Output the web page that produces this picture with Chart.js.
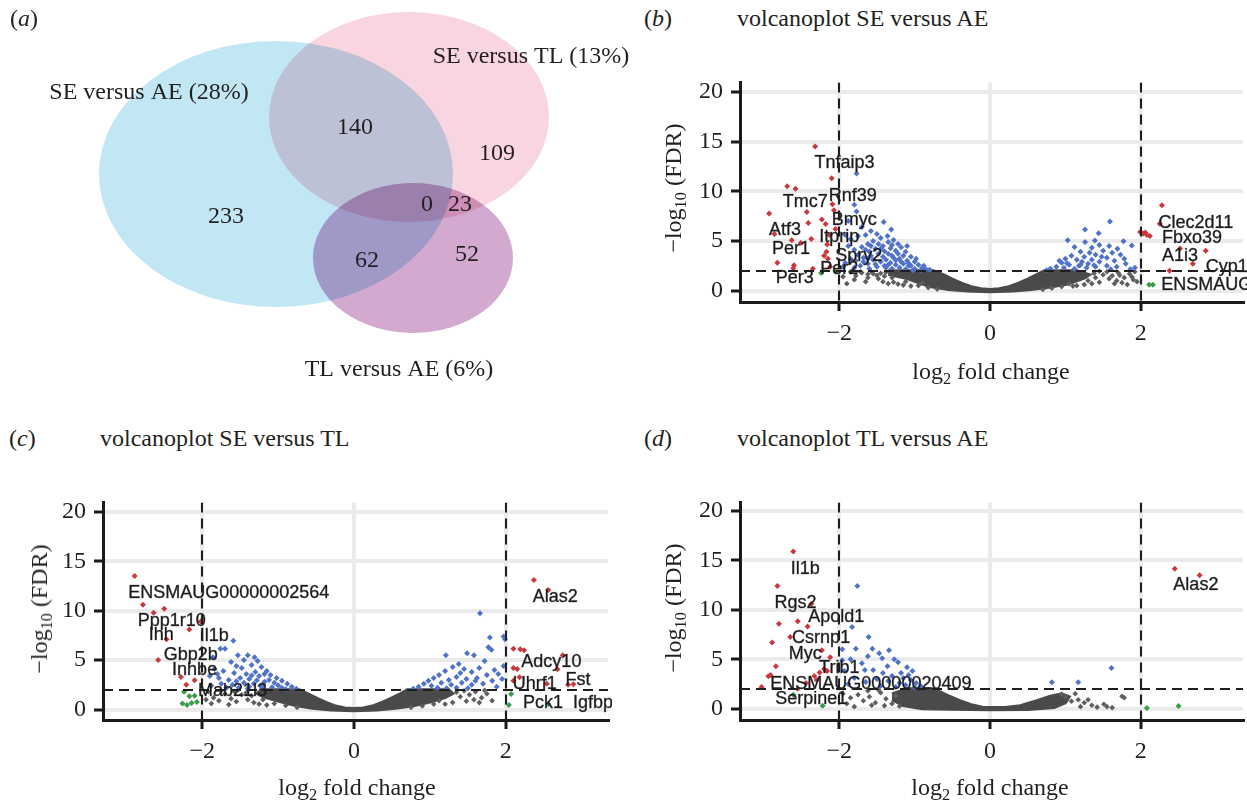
<!DOCTYPE html>
<html><head><meta charset="utf-8">
<script src="https://cdn.jsdelivr.net/npm/chart.js@4.4.1/dist/chart.umd.min.js"></script>
<style>
body{margin:0;background:#fff;width:1247px;height:803px;overflow:hidden;position:relative;font-family:'Liberation Serif','Times New Roman',serif;color:#231f20}
canvas{position:absolute}
.t{position:absolute;font-size:24px;white-space:nowrap;line-height:24px}
.xt{position:absolute;font-size:24px;white-space:nowrap;line-height:24px;transform:translate(-50%,-50%)}
.yt{position:absolute;font-size:24px;white-space:nowrap;line-height:24px;transform:translate(-50%,-50%) rotate(-90deg)}
sub{font-size:0.68em;vertical-align:-0.32em;line-height:0}
</style></head><body>
<canvas id="cA" width="640" height="400" style="left:0;top:0"></canvas>
<canvas id="cB" width="607" height="300" style="left:640px;top:60px"></canvas>
<canvas id="cC" width="612" height="300" style="left:0;top:480px"></canvas>
<canvas id="cD" width="607" height="300" style="left:640px;top:480px"></canvas>

<div class="t" style="left:10px;top:6px">(<i>a</i>)</div>
<div class="t" style="left:644px;top:6px">(<i>b</i>)</div>
<div class="t" style="left:737px;top:6px">volcanoplot SE versus AE</div>
<div class="t" style="left:9px;top:426px">(<i>c</i>)</div>
<div class="t" style="left:100px;top:426px">volcanoplot SE versus TL</div>
<div class="t" style="left:644px;top:426px">(<i>d</i>)</div>
<div class="t" style="left:737px;top:426px">volcanoplot TL versus AE</div>

<div class="xt" style="left:991px;top:371px">log<sub>2</sub> fold change</div>
<div class="xt" style="left:357px;top:787px">log<sub>2</sub> fold change</div>
<div class="xt" style="left:990px;top:787px">log<sub>2</sub> fold change</div>
<div class="yt" style="left:673px;top:188px">&minus;log<sub>10</sub> (FDR)</div>
<div class="yt" style="left:39px;top:609px">&minus;log<sub>10</sub> (FDR)</div>
<div class="yt" style="left:673px;top:608px">&minus;log<sub>10</sub> (FDR)</div>

<script>
// ---------------- DATA ----------------
// Venn diagram (panel a)
const vennSetNames = ['SE versus AE (28%)', 'SE versus TL (13%)', 'TL versus AE (6%)'];
const vennCounts = [233, 140, 109, 0, 23, 62, 52];

// Axis ticks shared by the volcano plots
const xTickValues = [-2, 0, 2];
const yTickValues = [0, 5, 10, 15, 20];
const fcThreshold = 2;      // |log2 fold change|
const fdrThreshold = 2;     // -log10(FDR)

// Panel b: SE versus AE
const bRed = [[-2.32,14.5],[-2.10,11.3],[-2.69,10.5],[-2.58,10.25],[-2.93,7.76],[-2.43,7.9],[-2.09,8.7],[-2.07,8.1],[-2.41,6.8],[-2.23,7.15],[-2.18,6.7],[-2.86,5.7],[-2.63,5.07],[-2.51,4.8],[-2.37,5.2],[-2.16,4.65],[-2.20,3.5],[-2.15,3.2],[-2.82,2.8],[-2.60,2.56],[-2.61,2.25],[-2.35,2.2],[-2.17,3.9],[-2.13,5.6],[-2.05,6.2],[-2.12,2.4],
  [2.28,8.6],[2.25,6.73],[1.99,5.9],[2.03,5.75],[2.06,5.85],[2.08,5.6],[2.12,5.5],[2.52,4.23],[2.86,4.0],[2.69,2.7],[2.38,2.0]];
const bGreen = [[-2.24,1.76],[-2.05,1.9],[2.11,0.58],[2.16,0.58]];
const bBlue = [[-1.77,11.8],[-1.80,8.65],[-1.77,7.95],[-1.88,7.0],[-1.70,6.4],[-1.41,6.9],[-1.31,6.15],[-1.58,6.0],
  [-1.92,5.6],[-1.85,5.2],[-1.75,5.5],[-1.65,5.6],[-1.50,5.7],[-1.45,5.3],[-1.36,5.5],[-1.55,5.0],[-1.62,4.7],[-1.70,4.4],[-1.80,4.1],[-1.88,4.5],[-1.35,4.9],[-1.28,5.1],[-1.22,4.7],[-1.42,4.5],[-1.52,4.2],[-1.60,3.9],[-1.75,3.6],[-1.85,3.2],[-1.92,2.8],[-1.68,3.3],[-1.48,3.7],[-1.40,3.95],[-1.32,4.25],[-1.25,4.0],[-1.18,4.35],[-1.12,3.9],[-1.15,3.5],[-1.20,3.2],[-1.30,3.5],[-1.38,3.1],[-1.45,2.9],[-1.55,3.1],[-1.62,2.7],[-1.72,2.5],[-1.80,2.3],[-1.50,2.4],[-1.40,2.5],[-1.32,2.8],[-1.25,2.6],[-1.10,3.0],[-1.05,3.4],[-1.00,2.9],[-0.95,2.6],[-1.08,2.5],[-1.15,2.7],[-1.20,2.3],[-0.90,2.3],[-0.85,2.15],[-0.80,2.1],[-1.00,2.2],[-1.30,2.2],[-1.60,2.2],[-1.95,2.4],[-1.28,3.3],[-1.35,3.7],[-1.10,4.5],[-1.42,3.4],[-1.58,3.5],[-1.65,4.1],[-1.48,4.7],[-1.22,3.7],[-1.05,2.5],[-0.98,3.2],[-1.12,2.15],[-1.38,2.3],[-1.68,2.9],[-1.78,3.0],[-1.30,4.6],[-1.58,4.5],[-1.18,2.9],[-1.45,4.2],[-1.35,2.6],[-1.02,2.05],[-0.92,2.05],[-1.25,3.05],[-1.52,2.65],[-1.62,3.2],[-1.08,2.75],[-0.88,2.5],
  [1.59,6.95],[1.26,6.15],[1.44,5.77],[1.03,5.07],[1.26,4.9],[1.39,5.05],[1.77,4.97],[1.88,4.55],[1.12,4.4],[1.69,4.2],[1.86,2.15],[1.73,3.6],[1.35,4.3],[1.50,4.0],[1.62,3.8],[1.20,3.9],[1.08,3.5],[1.00,3.2],[0.95,2.8],[0.88,2.4],[0.80,2.2],[0.75,2.05],[1.15,3.1],[1.25,3.4],[1.40,3.6],[1.55,3.3],[1.65,3.0],[1.78,3.2],[1.45,2.9],[1.30,2.7],[1.18,2.5],[1.05,2.6],[0.98,2.3],[1.12,2.2],[1.28,2.3],[1.40,2.4],[1.55,2.5],[1.68,2.4],[1.80,2.7],[1.92,2.3],[1.60,2.15],[0.92,3.0],[1.22,2.9],[1.35,3.1],[1.48,3.4],[1.32,3.8],[1.58,4.5],[1.45,4.6],[1.02,2.75],[1.20,2.6],[1.38,2.55]];
const bGrey = [[-1.85,1.9],[-1.78,1.5],[-1.70,1.8],[-1.62,1.3],[-1.55,1.7],[-1.48,1.2],[-1.80,1.1],[-1.65,0.9],[-1.42,0.9],[-1.90,0.7],[-1.35,0.7],[-1.50,1.55],[-1.28,0.85],[-1.95,1.4],[-1.72,1.9],[-1.58,1.95],[-1.40,1.45],[-1.15,0.55],[-1.05,0.45],[-1.22,0.65],[-1.45,1.75],[-1.38,1.85],[-1.62,1.65],[-1.3,1.3],[-1.12,0.9],[-0.95,0.5],[-0.82,0.3],[-0.7,0.15],[-0.9,0.75],
  [1.55,1.9],[1.62,1.5],[1.70,1.8],[1.78,1.3],[1.85,1.7],[1.90,1.1],[1.68,1.0],[1.58,1.2],[1.75,0.8],[1.82,0.6],[1.65,0.7],[1.92,1.9],[1.95,0.9],[1.45,0.85],[1.35,0.7],[1.50,1.6],[1.72,1.55],[1.88,1.4],[1.40,1.3],[1.25,0.6],[1.15,0.5],[1.10,0.45],[1.38,1.75],[1.45,1.95],[1.3,1.0],[0.95,0.4],[0.82,0.25],[0.7,0.12],[1.05,0.7]];
// outline of the dense grey (non-significant) point mass
const bCore = [[-1.35,2.0],[-0.75,2.0],[-0.62,1.6],[-0.5,1.15],[-0.38,0.75],[-0.25,0.4],[-0.12,0.18],[0,0.12],[0.12,0.18],[0.25,0.4],[0.38,0.75],[0.5,1.15],[0.62,1.6],[0.72,2.0],[1.15,2.0],
  [1.32,1.6],[1.25,1.25],[1.03,0.67],[0.8,0.35],[0.55,0.1],[0.3,-0.05],[0,-0.12],[-0.3,-0.05],[-0.55,0.1],[-0.8,0.4],[-0.95,0.8],[-1.1,1.2],[-1.35,1.65]];
const bLabels = [['Tnfaip3',-1.93,12.8],['Rnf39',-1.82,9.5],['Tmc7',-2.45,8.9],['Bmyc',-1.80,7.1],['Atf3',-2.72,6.1],['Itprip',-2.0,5.35],['Per1',-2.64,4.17],['Spry2',-1.74,3.46],['Per2',-2.0,2.15],['Per3',-2.59,1.22],
  ['Clec2d11',2.73,6.83],['Fbxo39',2.68,5.29],['A1i3',2.52,3.43],['Cyp1a1',2.86,2.4,'l'],['ENSMAUG00000',2.27,0.55,'l']];

// Panel c: SE versus TL
const cRed = [[-2.89,13.5],[-2.78,10.6],[-2.64,9.8],[-2.50,10.2],[-2.17,8.1],[-2.47,7.1],[-2.58,5.0],[-2.28,3.3],[-2.21,2.5],[-2.10,2.95],[-2.02,8.9],
  [2.37,13.1],[2.56,12.1],[2.10,6.15],[2.19,6.1],[2.24,6.0],[2.75,5.5],[2.10,4.2],[2.15,4.1],[2.68,4.07],[2.18,3.27],[2.89,2.57],[2.10,2.9],[2.54,2.6],[2.82,2.5]];
const cGreen = [[-2.24,1.8],[-2.17,1.35],[-2.26,0.6],[-2.14,0.65],[-2.07,0.75],[-2.20,0.45],[-2.10,1.4],[2.07,1.57],[2.04,0.45],[2.56,0.57]];
const cBlue = [[-1.59,6.95],[-1.76,6.15],[-1.70,6.15],[-1.53,5.5],[-1.40,5.5],[-1.31,5.3],[-1.27,4.9],[-1.86,5.3],[-1.84,4.1],[-1.90,3.4],[-1.45,5.0],[-1.62,4.8],[-1.55,4.4],[-1.48,4.2],[-1.35,4.5],[-1.22,4.3],[-1.15,3.9],[-1.30,3.8],[-1.42,3.6],[-1.58,3.7],[-1.72,3.9],[-1.78,3.2],[-1.65,3.0],[-1.50,3.2],[-1.38,3.1],[-1.25,3.4],[-1.10,3.5],[-1.02,3.2],[-0.95,2.9],[-0.88,2.6],[-0.82,2.3],[-0.76,2.1],[-1.05,2.7],[-1.18,2.8],[-1.32,2.6],[-1.45,2.7],[-1.60,2.5],[-1.75,2.6],[-1.88,2.4],[-1.68,2.2],[-1.52,2.2],[-1.38,2.3],[-1.22,2.3],[-1.08,2.25],[-0.95,2.2],[-0.90,2.05],[-1.12,3.0],[-1.28,2.95],[-1.55,2.85],[-1.00,2.45],[-1.20,2.55],[-1.40,2.1],[-1.80,3.6],[-1.35,3.45],[-1.18,3.6],
  [1.66,9.75],[1.97,7.4],[1.99,7.1],[1.79,7.3],[1.77,6.3],[1.81,6.05],[1.21,5.5],[1.49,5.7],[1.58,5.5],[1.72,4.9],[1.97,4.4],[1.95,3.1],[1.30,4.3],[1.38,4.6],[1.45,4.1],[1.55,3.8],[1.65,4.2],[1.85,4.0],[1.90,3.6],[1.20,3.9],[1.12,3.5],[1.05,3.2],[0.98,2.9],[0.92,2.6],[0.85,2.3],[0.78,2.1],[1.25,3.0],[1.35,3.3],[1.48,3.1],[1.62,3.2],[1.75,3.5],[1.82,2.9],[1.70,2.6],[1.55,2.5],[1.42,2.7],[1.28,2.5],[1.15,2.7],[1.02,2.4],[1.10,2.2],[1.22,2.15],[1.35,2.2],[1.50,2.15],[1.88,2.3],[1.40,3.7],[1.60,2.9]];
const cGrey = [[-1.92,1.8],[-1.85,1.2],[-1.78,0.9],[-1.70,1.6],[-1.62,1.1],[-1.55,0.8],[-1.48,1.5],[-1.40,1.0],[-1.32,0.7],[-1.88,0.6],[-1.65,0.5],[-1.95,1.0],[-1.75,1.9],[-1.58,1.85],[-1.42,1.7],[-1.25,0.55],[-1.15,0.45],[-1.35,1.4],[-1.05,0.6],[-0.9,0.4],[-0.75,0.2],[-1.2,1.0],
  [1.45,1.9],[1.52,1.5],[1.60,1.8],[1.68,1.2],[1.75,1.6],[1.82,0.9],[1.58,1.0],[1.48,0.85],[1.40,1.3],[1.65,0.7],[1.72,1.95],[1.30,0.7],[1.20,0.55],[1.35,1.75],[1.05,0.55],[0.9,0.35],[0.75,0.2],[1.12,0.9]];
const cCore = [[-1.25,2.0],[-0.72,2.0],[-0.6,1.55],[-0.48,1.1],[-0.36,0.7],[-0.24,0.35],[-0.12,0.15],[0,0.1],[0.12,0.15],[0.24,0.35],[0.36,0.7],[0.48,1.1],[0.6,1.55],[0.7,2.0],[1.25,2.0],
  [1.3,1.6],[1.2,1.2],[1.0,0.75],[0.8,0.4],[0.55,0.12],[0.3,-0.05],[0,-0.12],[-0.3,-0.05],[-0.55,0.12],[-0.8,0.45],[-1.0,0.85],[-1.2,1.3],[-1.3,1.7]];
const cLabels = [['ENSMAUG00000002564',-1.65,11.8],['Ppp1r10',-2.40,8.94],['Ihh',-2.54,7.53],['Il1b',-1.84,7.43],['Gbp2b',-2.15,5.5],['Inhbe',-2.10,4.0],['Mab21l3',-1.60,1.83],
  ['Alas2',2.65,11.4],['Adcy10',2.60,4.78],['Fst',2.95,2.95],['Uhrf1',2.38,2.53],['Pck1',2.49,0.7],['Igfbp1',2.885,0.7,'l']];

// Panel d: TL versus AE
const dRed = [[-2.61,15.9],[-2.82,12.4],[-2.37,10.6],[-2.80,8.6],[-2.55,8.85],[-2.42,8.3],[-2.65,7.25],[-2.89,6.7],[-2.23,5.9],[-2.12,5.2],[-2.84,4.3],[-2.94,3.27],[-2.91,3.4],[-2.26,3.65],[-2.33,3.3],[-2.20,4.0],[-3.03,2.2],[-2.44,2.6],[-2.30,2.9],[-2.16,3.8],[-2.55,2.0],
  [2.45,14.16],[2.78,13.5]];
const dGreen = [[-2.61,1.41],[-2.22,0.3],[2.08,0.07],[2.5,0.26]];
const dBlue = [[-1.76,12.4],[-1.83,8.25],[-1.61,7.25],[-1.78,6.05],[-1.96,6.0],[-1.56,6.05],[-1.47,5.6],[-1.34,5.9],[-1.43,5.1],[-1.27,5.0],[-1.22,4.7],[-1.36,4.3],[-1.10,4.2],[-1.03,3.8],[-1.96,4.9],[-1.93,3.8],[-1.66,3.9],[-1.55,3.9],[-1.42,3.6],[-1.30,3.3],[-1.15,3.1],[-1.05,2.9],[-0.98,2.6],[-0.92,2.3],[-1.20,2.6],[-1.35,2.8],[-1.50,3.0],[-1.65,2.7],[-1.80,3.1],[-1.88,2.5],[-1.12,2.4],[-1.25,2.2],[-1.45,2.3],[-1.00,2.15],[-1.85,5.0],[-1.70,4.6],[-1.62,5.3],[-1.08,3.4],[-1.18,3.6],
  [1.61,4.1],[0.82,2.66],[1.17,2.66]];
const dGrey = [[-1.95,1.5],[-1.85,1.1],[-1.75,1.4],[-1.68,0.8],[-1.60,1.2],[-1.52,0.6],[-1.45,1.6],[-1.38,1.0],[-1.30,0.5],[-1.90,0.5],[-1.62,1.8],[-1.48,1.9],[-1.25,1.3],[-1.80,0.2],[-1.57,0.35],[-1.40,0.3],[-1.20,0.25],
  [1.13,1.5],[1.17,0.9],[1.25,0.6],[1.51,0.45],[1.55,0.2],[1.75,1.25],[1.78,1.1],[1.35,0.35],[1.0,1.2],[1.08,0.75],[1.42,0.15],[1.3,0.9],[0.95,1.45],[1.2,0.2],[1.62,0.1]];
const dCore = [[-1.3,1.5],[-1.1,2.0],[-0.75,2.0],[-0.55,1.3],[-0.4,0.8],[-0.25,0.4],[-0.1,0.15],[0.2,0.12],[0.4,0.3],[0.6,0.75],[0.8,1.25],[0.95,1.5],[1.05,1.2],[1.0,0.6],[0.85,0.1],[0.5,-0.1],[0,-0.12],[-0.5,-0.05],[-0.9,0.0],[-1.15,0.3],[-1.3,0.9]];
const dLabels = [['Il1b',-2.45,14.17],['Rgs2',-2.58,10.64],['Apold1',-2.04,9.26],['Csrnp1',-2.24,7.1],['Myc',-2.45,5.5],['Trib1',-2.0,4.13],['ENSMAUG00000020409',-1.58,2.53],['Serpine1',-2.37,0.93],['Alas2',2.73,12.47]];

// ---------------- LAYOUT / STYLE ----------------
const SERIF = "'Liberation Serif','Times New Roman',serif";
const SANS = "'Liberation Sans',Arial,sans-serif";
const COL = {red:'#c8383c', blue:'#5072c8', green:'#3c9b4a', grey:'#5e5e5e', core:'#4a4a4a'};
const vennLayout = {
  ellipses: [[276,174,177,133,'rgb(193,230,244)'],[409,117,140,105,'rgb(249,214,223)'],[413,258,100,75,'rgb(211,169,208)']],
  setLabelPos: [[149,93],[531,57],[399,370]],
  countPos: [[226,217],[355,128],[497,154],[427,205],[460,205],[367,261],[467,255]]
};

const pts = a => a.map(p => ({x:p[0], y:p[1]}));
const fmt = v => v < 0 ? '\u2212' + Math.abs(v) : String(v);

// ---------------- PANEL A: VENN ----------------
const vennPlugin = {
  id:'venn',
  afterDatasetsDraw(chart){
    const {ctx, scales:{x, y}} = chart;
    ctx.save();
    ctx.globalCompositeOperation = 'multiply';
    vennLayout.ellipses.forEach(([cx,cy,rx,ry,c]) => {
      const px = x.getPixelForValue(cx), py = y.getPixelForValue(cy);
      const prx = Math.abs(x.getPixelForValue(cx+rx) - px), pry = Math.abs(y.getPixelForValue(cy+ry) - py);
      ctx.beginPath(); ctx.ellipse(px, py, prx, pry, 0, 0, Math.PI*2);
      ctx.fillStyle = c; ctx.fill();
    });
    ctx.globalCompositeOperation = 'source-over';
    ctx.fillStyle = '#231f20';
    ctx.font = '24px ' + SERIF;
    ctx.textAlign = 'center'; ctx.textBaseline = 'middle';
    vennSetNames.forEach((s,i) => { const [lx,ly] = vennLayout.setLabelPos[i]; ctx.fillText(s, x.getPixelForValue(lx), y.getPixelForValue(ly)); });
    vennCounts.forEach((n,i) => { const [lx,ly] = vennLayout.countPos[i]; ctx.fillText(String(n), x.getPixelForValue(lx), y.getPixelForValue(ly)); });
    ctx.restore();
  }
};
new Chart(document.getElementById('cA'), {
  type:'scatter',
  data:{datasets:[{data:[], pointRadius:0}]},
  options:{animation:false, responsive:false, devicePixelRatio:1, layout:{padding:0},
    plugins:{legend:{display:false}, tooltip:{enabled:false}},
    scales:{x:{type:'linear', min:0, max:640, display:false}, y:{type:'linear', min:0, max:400, reverse:true, display:false}}},
  plugins:[vennPlugin]
});

// ---------------- VOLCANO PANELS ----------------
const volcanoOverlay = {
  id:'volcanoOverlay',
  afterDatasetsDraw(chart, args, o){
    const {ctx, chartArea:a, scales:{x, y}} = chart;
    ctx.save();
    ctx.font = '18px ' + SANS;
    ctx.fillStyle = '#1c1c1c';
    ctx.strokeStyle = 'rgba(28,28,28,0.55)';
    ctx.lineWidth = 0.6;
    ctx.textBaseline = 'middle';
    (o.labels || []).forEach(([t, lx, ly, al]) => {
      ctx.textAlign = al === 'l' ? 'left' : 'center';
      const px = x.getPixelForValue(lx), py = y.getPixelForValue(ly);
      ctx.fillText(t, px, py);
      ctx.strokeText(t, px, py);
    });
    ctx.beginPath(); ctx.rect(a.left, a.top, a.right - a.left, a.bottom - a.top); ctx.clip();
    ctx.strokeStyle = '#1e1e1e'; ctx.lineWidth = 2; ctx.setLineDash([10, 6]);
    [-fcThreshold, fcThreshold].forEach(v => {
      const px = Math.round(x.getPixelForValue(v));
      ctx.beginPath(); ctx.moveTo(px, a.top); ctx.lineTo(px, a.bottom); ctx.stroke();
    });
    const py = Math.round(y.getPixelForValue(fdrThreshold));
    ctx.beginPath(); ctx.moveTo(a.left, py); ctx.lineTo(a.right, py); ctx.stroke();
    ctx.restore();
  }
};

function volcano(id, d, o){
  const ds = (data, color, r) => ({data:pts(data), backgroundColor:color, borderWidth:0, pointStyle:'rectRot', pointRadius:r, showLine:false});
  return new Chart(document.getElementById(id), {
    type:'scatter',
    data:{datasets:[
      ds(d.green, COL.green, 3),
      ds(d.red, COL.red, 3),
      ds(d.blue, COL.blue, 3),
      ds(d.grey, COL.grey, 2.8),
      {data:pts(d.core), showLine:true, fill:'shape', backgroundColor:COL.core, borderColor:COL.core, borderWidth:3, pointRadius:0, tension:0}
    ]},
    options:{
      animation:false, responsive:false, devicePixelRatio:1,
      layout:{padding:{top:o.padTop, left:0, right:0, bottom:0}},
      plugins:{legend:{display:false}, tooltip:{enabled:false}, volcanoOverlay:{labels:d.labels}},
      scales:{
        x:{type:'linear', min:o.xmin, max:o.xmax,
          afterBuildTicks:s => { s.ticks = xTickValues.map(v => ({value:v})); },
          afterFit:s => { s.height = o.xh; },
          grid:{color:'#ebebeb', lineWidth:4, tickColor:'#1a1a1a', tickWidth:3, tickLength:9},
          border:{display:true, color:'#1a1a1a', width:3},
          ticks:{font:{family:SERIF, size:24}, color:'#231f20', padding:8, autoSkip:false, maxRotation:0, callback:fmt}},
        y:{type:'linear', min:o.ymin, max:o.ymax,
          afterBuildTicks:s => { s.ticks = yTickValues.map(v => ({value:v})); },
          afterFit:s => { s.width = o.yw; },
          grid:{color:'#ebebeb', lineWidth:4, tickColor:'#1a1a1a', tickWidth:3, tickLength:9},
          border:{display:true, color:'#1a1a1a', width:3},
          ticks:{font:{family:SERIF, size:24}, color:'#231f20', padding:8, autoSkip:false, callback:fmt}}
      }
    },
    plugins:[volcanoOverlay]
  });
}

volcano('cB', {red:bRed, green:bGreen, blue:bBlue, grey:bGrey, core:bCore, labels:bLabels},
  {padTop:12, xh:58, yw:100, xmin:-3.316, xmax:3.355, ymin:-1.15, ymax:20.96});
volcano('cC', {red:cRed, green:cGreen, blue:cBlue, grey:cGrey, core:cCore, labels:cLabels},
  {padTop:11, xh:60, yw:103, xmin:-3.307, xmax:3.346, ymin:-1.06, ymax:20.96});
volcano('cD', {red:dRed, green:dGreen, blue:dBlue, grey:dGrey, core:dCore, labels:dLabels},
  {padTop:11, xh:60, yw:100, xmin:-3.316, xmax:3.355, ymin:-1.15, ymax:20.87});
</script>
</body></html>
